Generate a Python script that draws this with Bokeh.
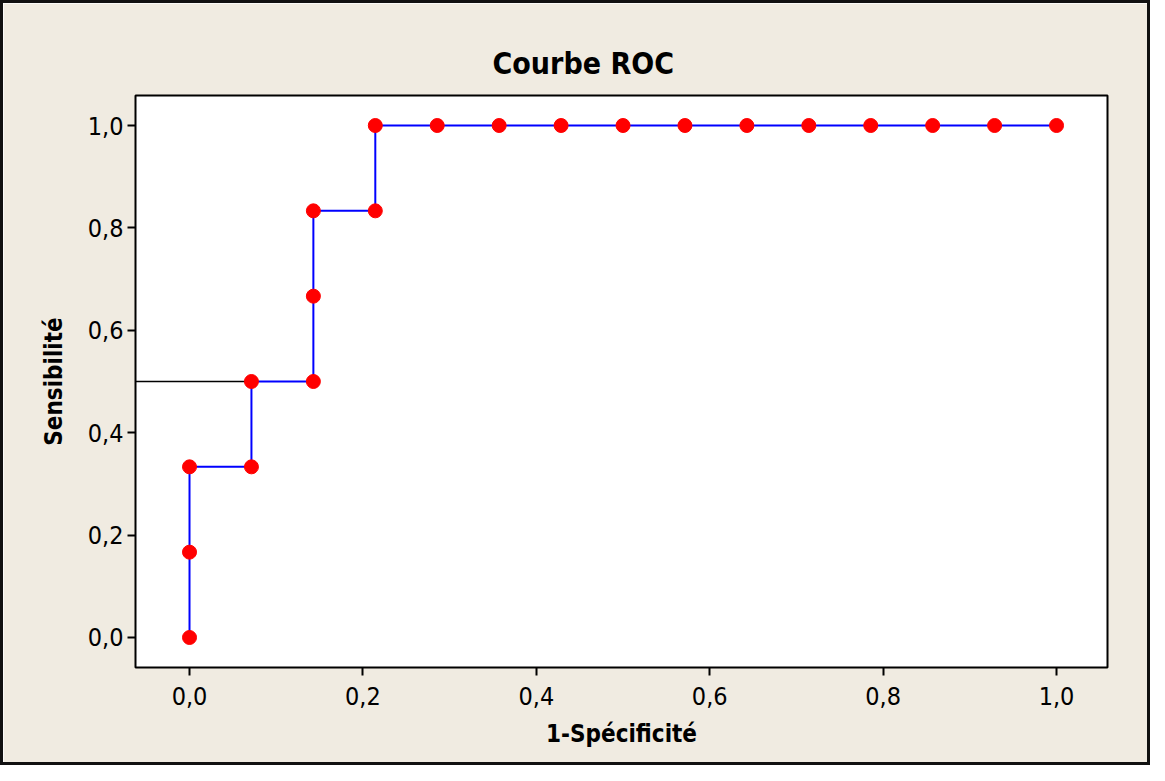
from bokeh.plotting import figure
from bokeh.models import FixedTicker, CustomJSTickFormatter, Range1d
from bokeh.embed import file_html
from bokeh.resources import INLINE

n_neg = 14
n_pos = 6
# counts (false positives / true positives)
fp_counts = [0, 0, 0, 1, 1, 2, 2, 2, 3, 3, 4, 5, 6, 7, 8, 9, 10, 11, 12, 13, 14]
tp_counts = [0, 1, 2, 2, 3, 3, 4, 5, 5, 6, 6, 6, 6, 6, 6, 6, 6, 6, 6, 6, 6]
fpr = [c / n_neg for c in fp_counts]
tpr = [c / n_pos for c in tp_counts]
ref_y = 0.5
ticks = [0.0, 0.2, 0.4, 0.6, 0.8, 1.0]

FONT = "DejaVu Sans Condensed"
W, H = 1150, 765
p = figure(width=W, height=H, output_backend="svg", toolbar_location=None,
           x_range=Range1d(-0.0623, 1.0588), y_range=Range1d(-0.0586, 1.0586),
           min_border_left=132, min_border_right=46, min_border_top=92, min_border_bottom=101)
p.border_fill_color = "#f0ebe1"
p.background_fill_color = "white"
p.outline_line_color = "black"
p.outline_line_width = 2
p.grid.visible = False
p.styles = {"border": "3px solid #111"}

p.title.text = "Courbe ROC"
p.title.align = "left"
p.title.offset = 357
p.title.text_font = FONT
p.title.text_font_size = "30px"
p.title.text_font_style = "bold"
p.title.text_color = "black"
p.title.standoff = 30

fmt = CustomJSTickFormatter(code="return tick.toFixed(1).replace('.', ',');")
for ax in (p.xaxis[0], p.yaxis[0]):
    ax.ticker = FixedTicker(ticks=ticks)
    ax.formatter = fmt
    ax.axis_line_color = None
    ax.major_tick_line_color = "black"
    ax.major_tick_line_width = 2
    ax.major_tick_out = 8
    ax.major_tick_in = 0
    ax.minor_tick_line_color = None
    ax.major_label_text_font = FONT
    ax.major_label_text_font_size = "25px"
    ax.major_label_text_color = "black"
    ax.axis_label_text_font = FONT
    ax.axis_label_text_font_size = "24px"
    ax.axis_label_text_font_style = "bold"
    ax.axis_label_text_color = "black"
p.xaxis.axis_label = "1-Spécificité"
p.yaxis.axis_label = "Sensibilité"
p.xaxis.major_label_standoff = 11
p.xaxis.axis_label_standoff = 12
p.yaxis.major_label_standoff = 4
p.yaxis.axis_label_standoff = 17

p.line(x=[-0.0623, fpr[4]], y=[ref_y, ref_y], line_color="black", line_width=1.5)
p.line(x=fpr, y=tpr, line_color="blue", line_width=2)
p.scatter(x=fpr, y=tpr, size=14, fill_color="red", line_color="red")

open("out.html", "w").write(file_html(p, INLINE))
